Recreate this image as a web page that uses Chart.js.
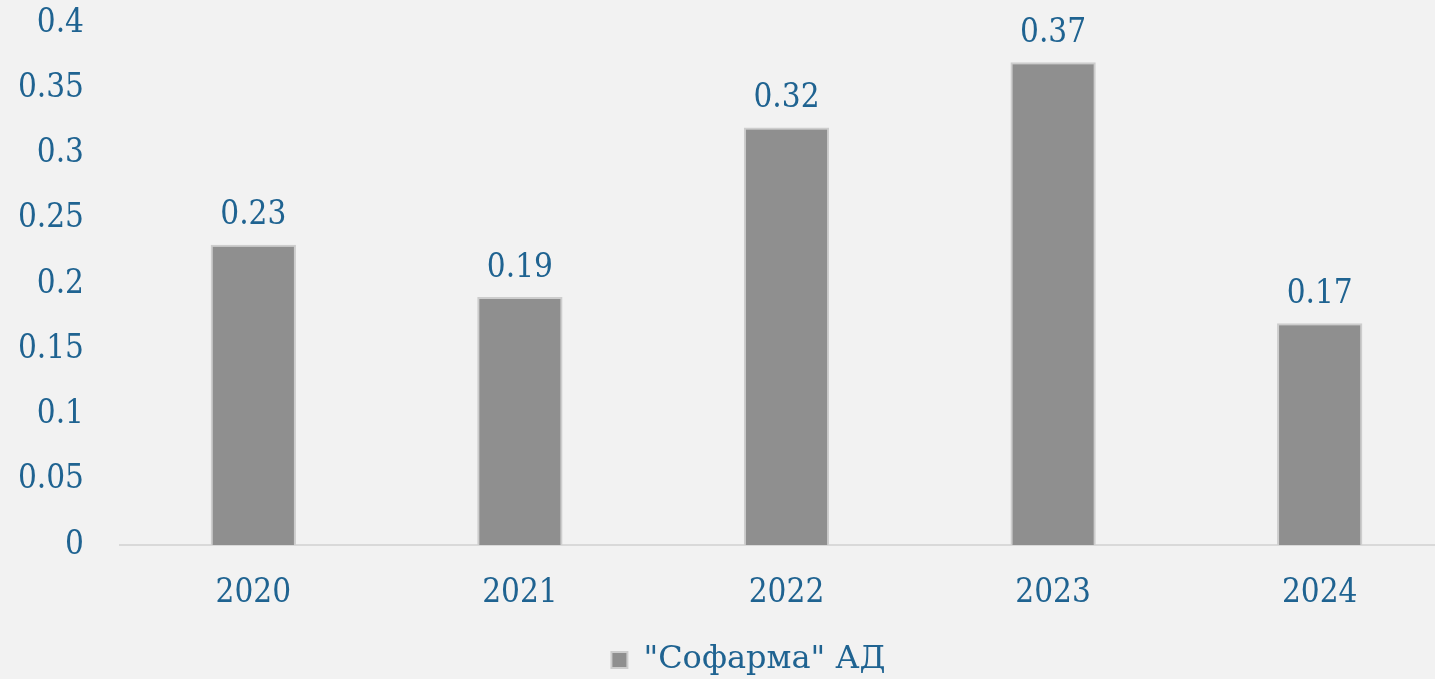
<!DOCTYPE html>
<html>
<head>
<meta charset="utf-8">
<script src="https://cdn.jsdelivr.net/npm/chart.js@4"></script>
<style>
  html, body { margin: 0; padding: 0; background: #f2f2f2; overflow: hidden; }
  #wrap { position: relative; width: 1453px; height: 679px; }
</style>
</head>
<body>
<div id="wrap"><canvas id="divChart"></canvas></div>
<script>
// data
const years = ['2020', '2021', '2022', '2023', '2024'];
const dividends = [0.23, 0.19, 0.32, 0.37, 0.17];
const seriesName = '"Софарма" АД';

const textColor = '#1f6391';
const fontFamily = '"DejaVu Serif Condensed", "DejaVu Serif", serif';
const fontSize = 33;

// draws the value above each bar
const valueLabels = {
    id: 'valueLabels',
    afterDatasetsDraw(chart) {
        const ctx = chart.ctx;
        const meta = chart.getDatasetMeta(0);
        ctx.save();
        ctx.fillStyle = textColor;
        ctx.font = fontSize + 'px ' + fontFamily;
        ctx.textAlign = 'center';
        ctx.textBaseline = 'middle';
        meta.data.forEach((bar, i) => {
            ctx.fillText(String(chart.data.datasets[0].data[i]), bar.x, bar.y - 29);
        });
        ctx.restore();
    }
};

// nudge the legend a bit to the right, like the original
const legendShift = {
    id: 'legendShift',
    afterLayout(chart) {
        chart.legend.left += 22;
        chart.legend.right += 22;
    }
};

new Chart(document.getElementById('divChart'), {
    type: 'bar',
    data: {
        labels: years,
        datasets: [{
            label: seriesName,
            data: dividends,
            backgroundColor: '#8f8f8f',
            borderColor: '#cdcdcd',
            borderWidth: 2,
            categoryPercentage: 1,
            barPercentage: 0.32,
        }],
    },
    options: {
        responsive: true,
        maintainAspectRatio: false,
        animation: false,
        layout: { padding: { top: 23, bottom: -7, left: 0, right: 0 } },
        plugins: {
            legend: {
                position: 'bottom',
                labels: {
                    color: textColor,
                    font: { size: 32, family: '"DejaVu Serif", serif' },
                    boxWidth: 16,
                    boxHeight: 16,
                    padding: 2,
                },
            },
            tooltip: { enabled: false },
        },
        scales: {
            y: {
                min: 0,
                max: 0.4,
                ticks: {
                    stepSize: 0.05,
                    color: textColor,
                    font: { size: fontSize, family: fontFamily },
                    padding: 36,
                    callback: v => String(Math.round(v * 100) / 100),
                },
                grid: { display: false, drawTicks: false },
                border: { display: false },
                afterFit(scale) {
                    scale.width = 120;
                    scale.paddingTop = 0;
                    scale.paddingBottom = 0;
                },
            },
            x: {
                ticks: {
                    color: textColor,
                    font: { size: fontSize, family: fontFamily, lineHeight: 1.0 },
                    padding: 32,
                },
                grid: { display: false, drawTicks: false },
                border: { color: '#d9d9d9', width: 2 },
            },
        },
    },
    plugins: [valueLabels, legendShift],
});
</script>
</body>
</html>
